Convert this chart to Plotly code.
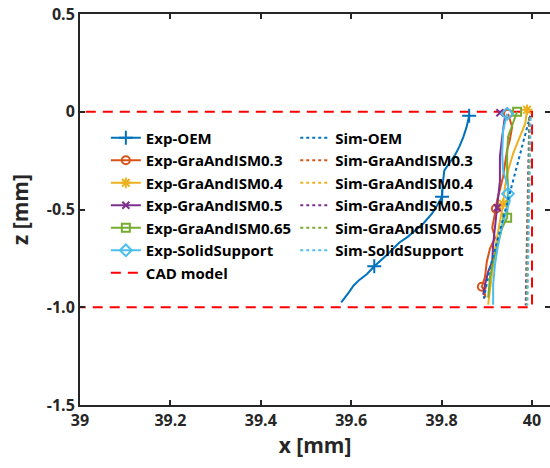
import plotly.graph_objects as go

# ---- data: profile of the printed edge, x [mm] vs z [mm] ----
oem_x = [39.861, 39.855, 39.848, 39.839, 39.830, 39.815, 39.806, 39.803, 39.801, 39.790, 39.779, 39.760,
         39.744, 39.725, 39.706, 39.680, 39.651, 39.635, 39.618, 39.605, 39.596, 39.585, 39.578]
oem_z = [-0.02, -0.08, -0.13, -0.18, -0.22, -0.27, -0.30, -0.36, -0.435, -0.48, -0.52, -0.57,
         -0.60, -0.64, -0.67, -0.73, -0.79, -0.83, -0.86, -0.89, -0.92, -0.95, -0.975]
oem_marks = [0, 8, 16]

g03_x = [39.947, 39.956, 39.951, 39.945, 39.940, 39.936, 39.929, 39.923, 39.920, 39.914,
         39.912, 39.918, 39.907, 39.900, 39.898, 39.896, 39.892, 39.889, 39.894, 39.897]
g03_z = [-0.01, -0.077, -0.143, -0.194, -0.271, -0.332, -0.399, -0.45, -0.496, -0.563,
         -0.593, -0.645, -0.70, -0.767, -0.80, -0.844, -0.875, -0.895, -0.911, -0.951]
g03_marks = [0, 8, 17]

g04_x = [39.989, 39.985, 39.973, 39.958, 39.947, 39.940, 39.936, 39.929, 39.923, 39.918,
         39.914, 39.907, 39.903]
g04_z = [0.01, -0.061, -0.128, -0.215, -0.302, -0.384, -0.471, -0.563, -0.645, -0.706,
         -0.783, -0.90, -0.987]
g04_marks = [0, 6]

g05_x = [39.929, 39.940, 39.934, 39.929, 39.929, 39.925, 39.923, 39.918, 39.914, 39.912,
         39.903, 39.896, 39.892]
g05_z = [-0.005, -0.026, -0.128, -0.23, -0.353, -0.435, -0.491, -0.578, -0.68, -0.767,
         -0.818, -0.885, -0.936]
g05_marks = [0, 6]

g065_x = [39.967, 39.958, 39.947, 39.945, 39.945, 39.947, 39.945, 39.945, 39.934, 39.923,
          39.914, 39.907, 39.903]
g065_z = [0.0, -0.061, -0.128, -0.215, -0.302, -0.384, -0.471, -0.542, -0.593, -0.696,
          -0.767, -0.849, -0.951]
g065_marks = [0, 7]

sol_x = [39.945, 39.936, 39.934, 39.936, 39.947, 39.947, 39.951, 39.934, 39.925, 39.918,
         39.914, 39.914]
sol_z = [-0.01, -0.097, -0.215, -0.302, -0.384, -0.419, -0.455, -0.578, -0.68, -0.783,
         -0.885, -0.987]
sol_marks = [0, 5]

# simulated profiles
sim_oem_x = [39.996, 39.975, 39.952, 39.930, 39.907, 39.892]
sim_oem_z = [-0.02, -0.20, -0.40, -0.60, -0.80, -0.97]
sim_03_x = [39.995, 39.993, 39.991, 39.989, 39.987]
sim_04_x = [39.996, 39.994, 39.992, 39.990, 39.988]
sim_05_x = [39.994, 39.992, 39.990, 39.988, 39.986]
sim_065_x = [39.995, 39.993, 39.991, 39.990, 39.988]
sim_sol_x = [39.997, 39.995, 39.993, 39.991, 39.990]
sim_z = [-0.03, -0.27, -0.51, -0.75, -0.99]

# CAD outline
cad_x = [38.9, 40.0, 40.0, 38.9]
cad_z = [0.0, 0.0, -1.0, -1.0]

x_ticks = [39, 39.2, 39.4, 39.6, 39.8, 40]
x_tick_text = ["39", "39.2", "39.4", "39.6", "39.8", "40"]
z_ticks = [-1.5, -1.0, -0.5, 0, 0.5]
z_tick_text = ["-1.5", "-1.0", "-0.5", "0", "0.5"]

# ---- style ----
FONT = "Open Sans"
INK = "#262626"
C_OEM, C_03, C_04, C_05, C_065, C_SOL = "#0072BD", "#D95319", "#EDB120", "#7E2F8E", "#77AC30", "#4DBEEE"
X_RANGE = [39, 40.0398]
Z_RANGE = [-1.5, 0.5]

fig = go.Figure()

# CAD model
fig.add_trace(go.Scatter(x=cad_x, y=cad_z, mode="lines", name="CAD model",
                         line=dict(color="#FF0000", width=2, dash="10px,7px"),
                         legend="legend", legendrank=7))

exp_series = [
    ("Exp-OEM", oem_x, oem_z, oem_marks, C_OEM, "cross-thin-open", 10),
    ("Exp-GraAndISM0.3", g03_x, g03_z, g03_marks, C_03, "circle-open", 8),
    ("Exp-GraAndISM0.4", g04_x, g04_z, g04_marks, C_04, "asterisk-open", 9),
    ("Exp-GraAndISM0.5", g05_x, g05_z, g05_marks, C_05, "x-thin-open", 7),
    ("Exp-GraAndISM0.65", g065_x, g065_z, g065_marks, C_065, "square-open", 8),
    ("Exp-SolidSupport", sol_x, sol_z, sol_marks, C_SOL, "diamond-open", 9),
]

for rank, (name, xs, zs, marks, col, sym, ms) in enumerate(exp_series, start=1):
    fig.add_trace(go.Scatter(x=xs, y=zs, mode="lines", line=dict(color=col, width=2),
                             showlegend=False, hoverinfo="skip"))
    fig.add_trace(go.Scatter(x=[xs[i] for i in marks], y=[zs[i] for i in marks], mode="markers",
                             marker=dict(symbol=sym, size=ms, color=col, line=dict(color=col, width=2)),
                             showlegend=False))
    # legend entry with line and marker
    fig.add_trace(go.Scatter(x=[None], y=[None], mode="lines+markers", name=name,
                             line=dict(color=col, width=2),
                             marker=dict(symbol=sym, size=ms, color=col, line=dict(color=col, width=2)),
                             legend="legend", legendrank=rank))

sim_series = [
    ("Sim-OEM", sim_oem_x, sim_oem_z, C_OEM),
    ("Sim-GraAndISM0.3", sim_03_x, sim_z, C_03),
    ("Sim-GraAndISM0.4", sim_04_x, sim_z, C_04),
    ("Sim-GraAndISM0.5", sim_05_x, sim_z, C_05),
    ("Sim-GraAndISM0.65", sim_065_x, sim_z, C_065),
    ("Sim-SolidSupport", sim_sol_x, sim_z, C_SOL),
]
for rank, (name, xs, zs, col) in enumerate(sim_series, start=1):
    fig.add_trace(go.Scatter(x=xs, y=zs, mode="lines", name=name,
                             line=dict(color=col, width=2, dash="dot"),
                             legend="legend2", legendrank=rank))

# empty trace so the right-hand tick axis is laid out
fig.add_trace(go.Scatter(x=[None], y=[None], yaxis="y2", showlegend=False, hoverinfo="skip"))

tick_font = dict(family=FONT, size=16, color=INK, weight="bold")
title_font = dict(family=FONT, size=21, color=INK, weight="bold")
tick_common = dict(ticks="inside", ticklen=5, tickwidth=1.5, tickcolor=INK,
                   showgrid=False, zeroline=False, tickfont=tick_font)

legend_common = dict(font=dict(family=FONT, size=15, color="#000000", weight="bold"),
                     bgcolor="rgba(0,0,0,0)", borderwidth=0, yanchor="top", xanchor="left",
                     traceorder="normal")

fig.update_layout(
    width=550, height=468,
    margin=dict(l=80, r=0, t=14, b=63),
    paper_bgcolor="white", plot_bgcolor="white",
    font=dict(family=FONT, color=INK),
    xaxis=dict(range=X_RANGE, tickvals=x_ticks, ticktext=x_tick_text,
               showline=True, linecolor=INK, linewidth=2, mirror="ticks",
               title=dict(text="x [mm]", font=title_font, standoff=8),
               **tick_common),
    yaxis=dict(range=Z_RANGE, tickvals=z_ticks, ticktext=z_tick_text,
               showline=True, linecolor=INK, linewidth=2, mirror=False,
               title=dict(text="z [mm]", font=title_font, standoff=12),
               **tick_common),
    yaxis2=dict(range=Z_RANGE, tickvals=z_ticks, overlaying="y", side="right", anchor="x",
                showline=False, showticklabels=False, **tick_common),
    legend=dict(x=0.055, y=0.725, **legend_common),
    legend2=dict(x=0.458, y=0.725, **legend_common),
)

fig.write_html("out.html")
